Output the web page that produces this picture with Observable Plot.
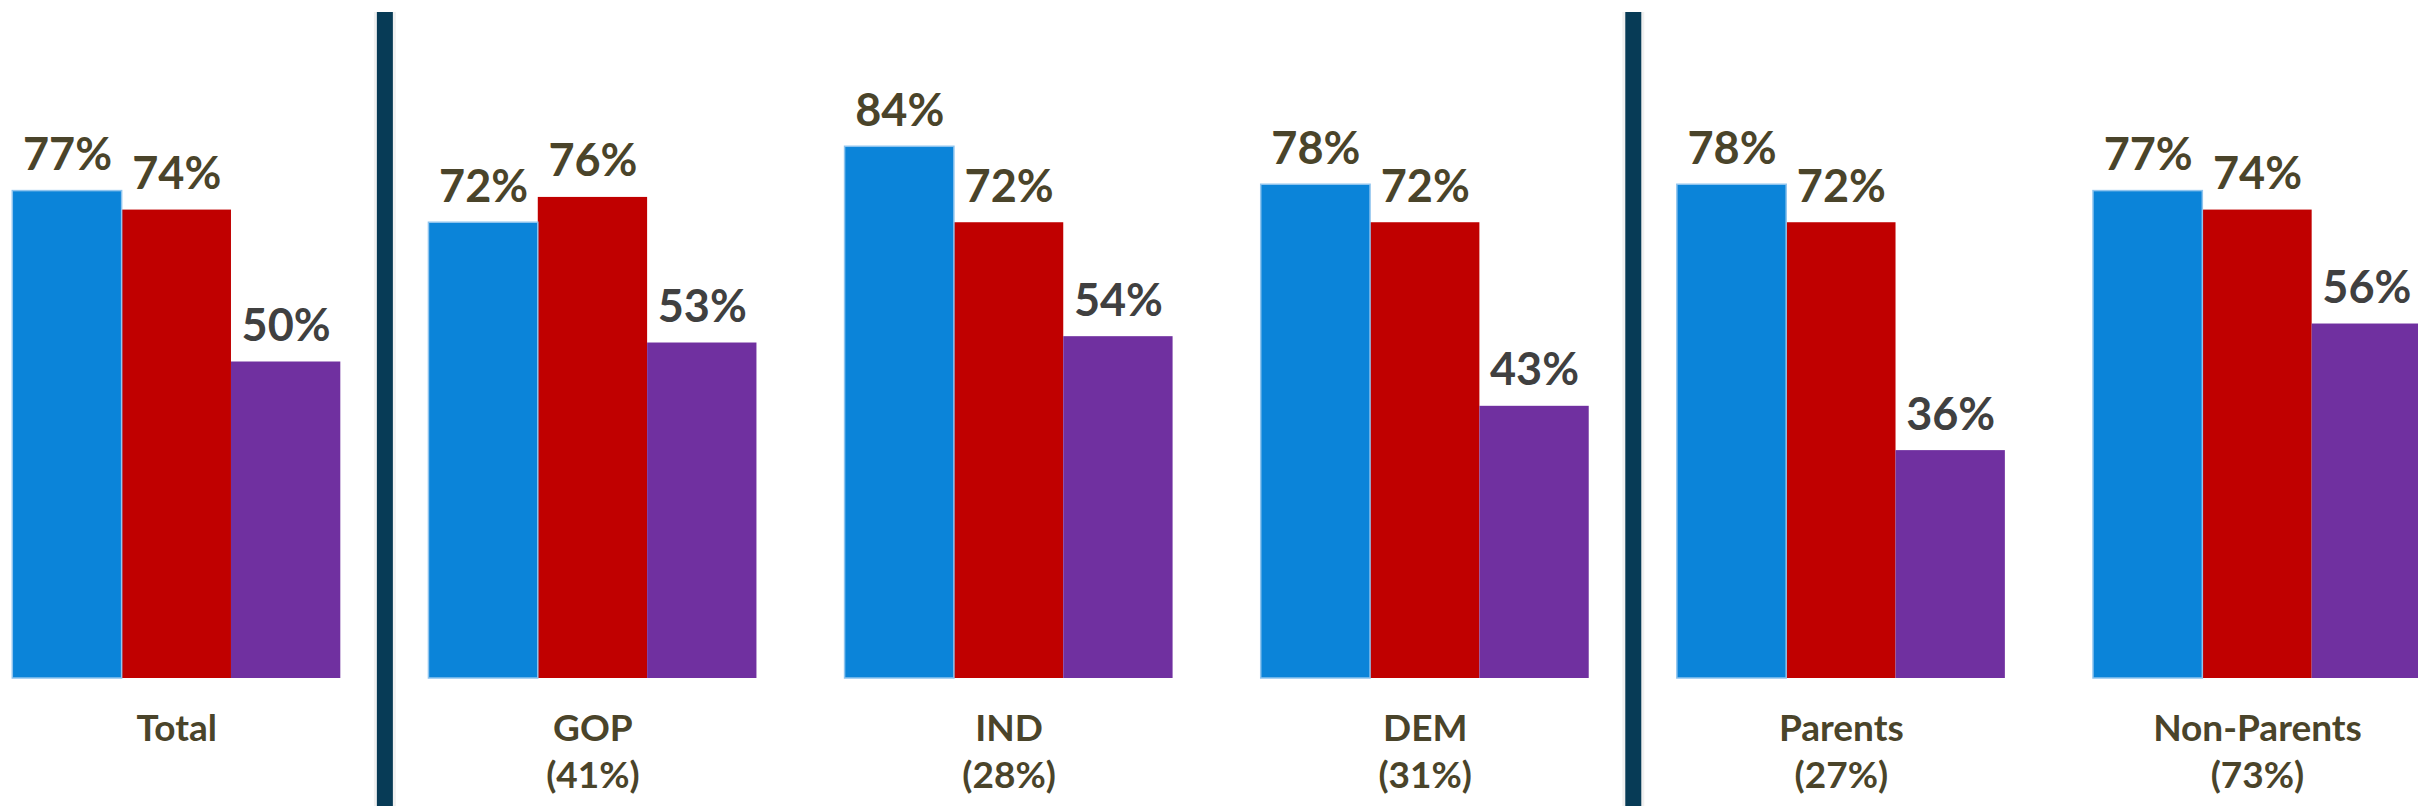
<!DOCTYPE html>
<html>
<head>
<meta charset="utf-8">
<script src="https://cdn.jsdelivr.net/npm/d3@7"></script>
<script src="https://cdn.jsdelivr.net/npm/@observablehq/plot@0.6"></script>
<style>
  html, body { margin: 0; padding: 0; background: #ffffff; overflow: hidden; }
  #chart svg { display: block; }
</style>
</head>
<body>
<div id="chart"></div>
<script>
// ---- data ----
const groups = ["Total", "GOP", "IND", "DEM", "Parents", "Non-Parents"];
const groupShares = [null, "41%", "28%", "31%", "27%", "73%"];
const seriesNames = ["Series 1", "Series 2", "Series 3"];
const seriesColors = ["#0b84d9", "#c00000", "#7030a0"];
const seriesLabelColors = ["#4a442a", "#4a442a", "#404040"];
const series1 = [77, 72, 84, 78, 78, 77];
const series2 = [74, 76, 72, 72, 72, 74];
const series3 = [50, 53, 54, 43, 36, 56];
const separatorsAfter = ["Total", "DEM"];

// ---- layout (in x-scale units: one bar = 1) ----
const gap = 0.806;
const step = seriesNames.length + gap;

const seriesValues = [series1, series2, series3];
const rows = [];
groups.forEach((g, gi) => {
  seriesNames.forEach((s, si) => {
    rows.push({group: g, gi, series: s, si, value: seriesValues[si][gi]});
  });
});
const groupRows = groups.map((g, gi) => ({
  group: g, gi,
  label: groupShares[gi] ? `${g}\n(${groupShares[gi]})` : g
}));
const sepRows = separatorsAfter.map(g => ({gi: groups.indexOf(g)}));

const xMax = (groups.length - 1) * step + seriesNames.length;
const font = "Lato, 'Source Sans Pro', sans-serif";

const chart = Plot.plot({
  width: 2418,
  height: 806,
  marginLeft: 12,
  marginRight: 0,
  marginTop: 12,
  marginBottom: 0,
  x: {domain: [0, xMax], range: [12.3, 2421], axis: null},
  y: {domain: [0, 100], range: [678, 45], axis: null},
  color: {domain: seriesNames, range: seriesColors},
  style: {fontFamily: font, background: "#ffffff"},
  marks: [
    // separator shadow + separator
    Plot.ruleX(sepRows, {x: d => (d.gi + 1) * step - gap / 2, stroke: "#000", strokeOpacity: 0.06, strokeWidth: 22}),
    Plot.ruleX(sepRows, {x: d => (d.gi + 1) * step - gap / 2, stroke: "#073b56", strokeWidth: 16}),
    // bars
    Plot.rectY(rows, {
      x1: d => d.gi * step + d.si,
      x2: d => d.gi * step + d.si + 1,
      y: "value",
      fill: "series"
    }),
    Plot.rectY(rows.filter(d => d.si === 0), {
      x1: d => d.gi * step + d.si,
      x2: d => d.gi * step + d.si + 1,
      y: "value",
      fill: "none",
      stroke: "#8fc4ee",
      strokeWidth: 1.5
    }),
    // value labels
    Plot.text(rows, {
      x: d => d.gi * step + d.si + 0.5,
      y: "value",
      text: d => `${d.value}%`,
      lineAnchor: "bottom",
      dy: -21,
      fontSize: 45,
      fontWeight: 700,
      fill: d => seriesLabelColors[d.si]
    }),
    // category labels
    Plot.text(groupRows, {
      x: d => d.gi * step + seriesNames.length / 2,
      y: () => 0,
      text: "label",
      lineAnchor: "top",
      dy: 29.5,
      fontSize: 37,
      fontWeight: 700,
      lineHeight: 1.257,
      fill: "#4a442a"
    })
  ]
});
document.getElementById("chart").appendChild(chart);
</script>
</body>
</html>
